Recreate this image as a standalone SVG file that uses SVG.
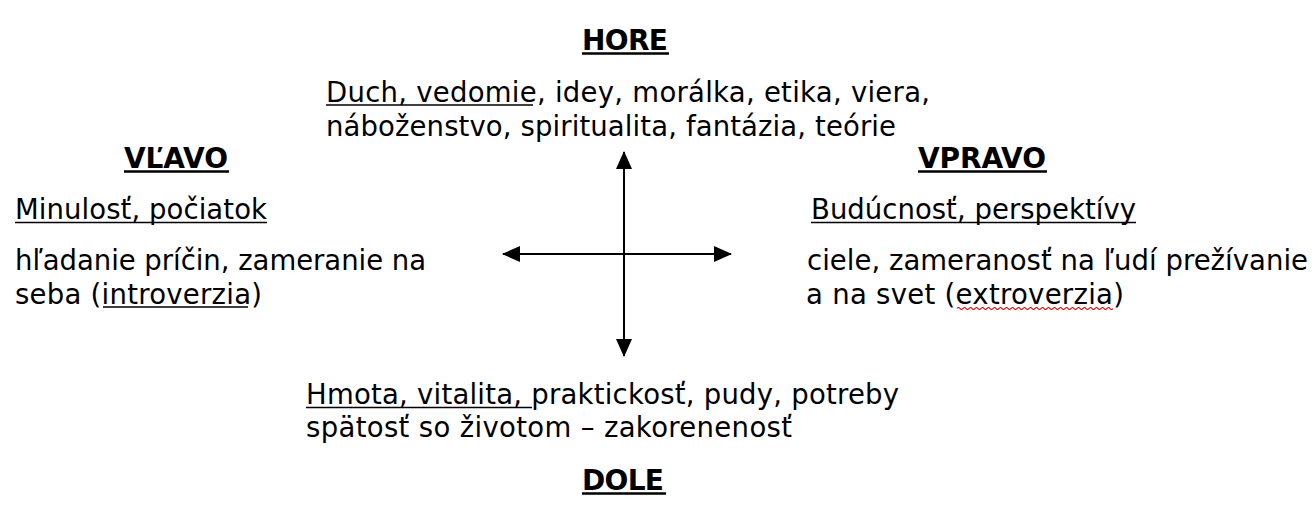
<svg xmlns="http://www.w3.org/2000/svg" width="1315" height="516" viewBox="0 0 1315 516">
<defs>
<style>
text{font-family:"DejaVu Sans","Verdana",sans-serif;font-size:27.5px;fill:#000}
.h{font-weight:bold;font-size:28px;text-anchor:middle}
.ul{stroke:#000;stroke-width:1.6}
.ulb{stroke:#000;stroke-width:2.4}
.ax{stroke:#000;stroke-width:2;fill:none}
</style>
<marker id="ah" markerWidth="18" markerHeight="16" refX="17" refY="8" orient="auto" markerUnits="userSpaceOnUse" viewBox="0 0 18 16">
<path d="M0,0 L18,8 L0,16 Z" fill="#000"/>
</marker>
</defs>
<rect width="1315" height="516" fill="#fff"/>
<g id="hore">
<text class="h" x="625" y="50" textLength="86">HORE</text>
<line class="ulb" x1="582" y1="53.5" x2="669" y2="53.5"/>
<text x="326" y="102" textLength="604">Duch, vedomie, idey, morálka, etika, viera,</text>
<line class="ul" x1="326" y1="105" x2="533" y2="105"/>
<text x="326" y="136" textLength="570">náboženstvo, spiritualita, fantázia, teórie</text>
</g>
<g id="vlavo">
<text class="h" x="176" y="168" textLength="104">VĽAVO</text>
<line class="ulb" x1="124" y1="171.5" x2="229" y2="171.5"/>
<text x="15" y="219" textLength="252">Minulosť, počiatok</text>
<line class="ul" x1="15" y1="222.5" x2="267" y2="222.5"/>
<text x="15" y="270" textLength="411">hľadanie príčin, zameranie na</text>
<text x="15" y="304" textLength="247">seba (introverzia)</text>
<line class="ul" x1="103" y1="307" x2="248" y2="307"/>
</g>
<g id="vpravo">
<text class="h" x="982" y="168" textLength="128">VPRAVO</text>
<line class="ulb" x1="918" y1="171.5" x2="1047" y2="171.5"/>
<text x="811" y="219" textLength="325">Budúcnosť, perspektívy</text>
<line class="ul" x1="811" y1="222.5" x2="1136" y2="222.5"/>
<text x="807" y="270" textLength="501">ciele, zameranosť na ľudí prežívanie</text>
<text x="806" y="304" textLength="318">a na svet (extroverzia)</text>
<path d="M957,308.5 q1.5,-2 3,0 t3,0 t3,0 t3,0 t3,0 t3,0 t3,0 t3,0 t3,0 t3,0 t3,0 t3,0 t3,0 t3,0 t3,0 t3,0 t3,0 t3,0 t3,0 t3,0 t3,0 t3,0 t3,0 t3,0 t3,0 t3,0 t3,0 t3,0 t3,0 t3,0 t3,0 t3,0 t3,0 t3,0 t3,0 t3,0 t3,0 t3,0 t3,0 t3,0 t3,0 t3,0 t3,0 t3,0 t3,0 t3,0 t3,0 t3,0 t3,0 t3,0 t3,0 t3,0" stroke="#e00" stroke-width="1.2" fill="none"/>
</g>
<g id="dole">
<text x="306" y="404" textLength="593">Hmota, vitalita, praktickosť, pudy, potreby</text>
<line class="ul" x1="306" y1="407.5" x2="532" y2="407.5"/>
<text x="306" y="437" textLength="486">spätosť so životom – zakorenenosť</text>
<text class="h" x="623" y="490" textLength="82">DOLE</text>
<line class="ulb" x1="582" y1="493.5" x2="666" y2="493.5"/>
</g>
<g id="connectors">
<line class="ax" x1="624" y1="254" x2="624" y2="152" marker-end="url(#ah)"/>
<line class="ax" x1="624" y1="254" x2="624" y2="356" marker-end="url(#ah)"/>
<line class="ax" x1="624" y1="254" x2="503" y2="254" marker-end="url(#ah)"/>
<line class="ax" x1="624" y1="254" x2="731" y2="254" marker-end="url(#ah)"/>
</g>
</svg>
